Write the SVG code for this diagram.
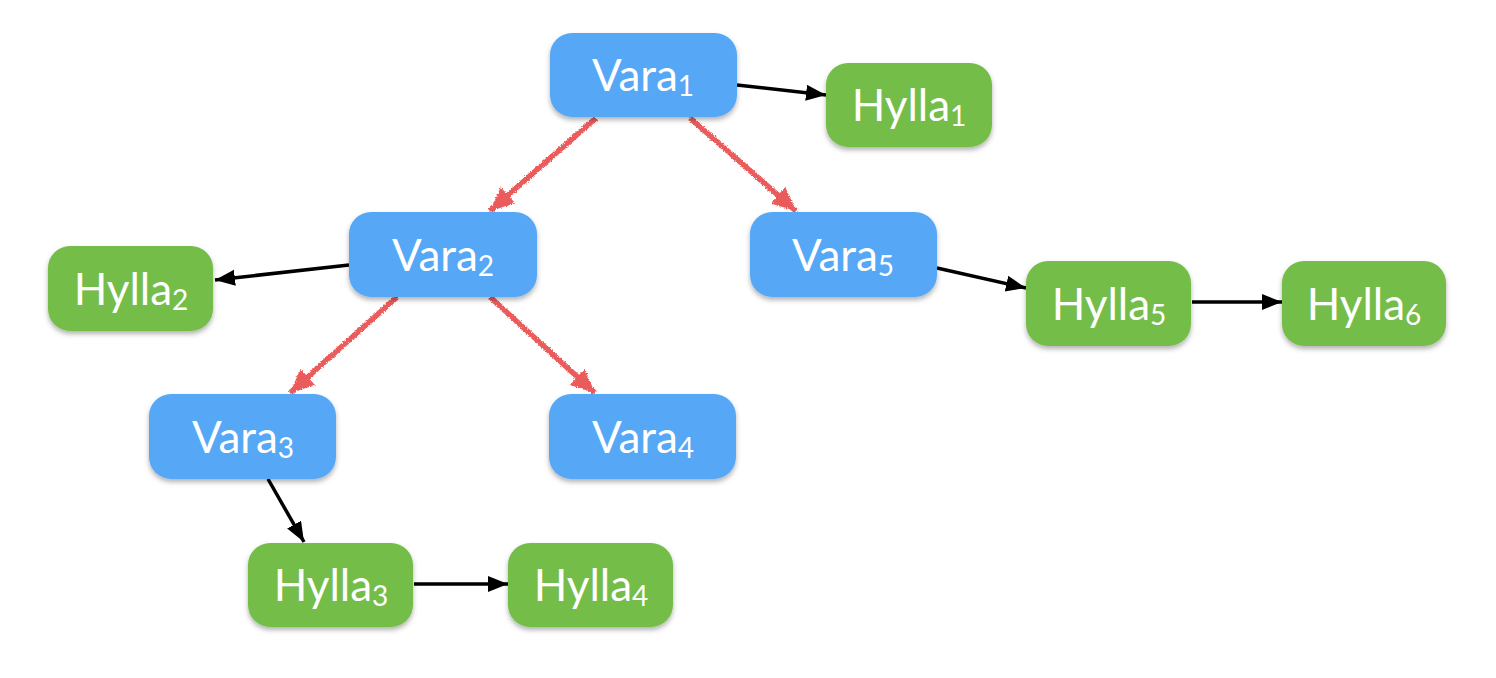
<svg xmlns="http://www.w3.org/2000/svg" width="1496" height="678" viewBox="0 0 1496 678">
<style>
.vara{fill:#57A8F6}
.hylla{fill:#74BD48}
.lbl{font-family:"Source Sans Pro","Lato","Open Sans",sans-serif;font-size:44px;fill:#fff;text-anchor:middle}
.sub{font-size:28px}
.blk{stroke:#000;stroke-width:3.5;fill:none}
.red{stroke:#EA5B5B;stroke-width:5.5;fill:none}
</style>
<defs>
<filter id="sh" x="-20%" y="-20%" width="140%" height="150%">
<feDropShadow dx="0" dy="3" stdDeviation="2.5" flood-color="#000" flood-opacity="0.3"/>
</filter>
<filter id="rough" x="-20%" y="-20%" width="140%" height="140%">
<feTurbulence type="fractalNoise" baseFrequency="0.8" numOctaves="2" seed="3"/>
<feDisplacementMap in="SourceGraphic" scale="3.5" xChannelSelector="R" yChannelSelector="G"/>
</filter>
<marker id="ab" markerUnits="userSpaceOnUse" markerWidth="22" markerHeight="18" refX="20" refY="8" orient="auto">
<path d="M0,0 L20,8 L0,16 Z" fill="#000"/>
</marker>
<marker id="ar" markerUnits="userSpaceOnUse" markerWidth="26" markerHeight="24" refX="24" refY="11" orient="auto">
<path d="M0,0 L24,11 L0,22 Z" fill="#EA5B5B"/>
</marker>
</defs>

<g id="connectors">
<g filter="url(#rough)">
<line class="red" x1="596" y1="118" x2="490" y2="211" marker-end="url(#ar)"/>
<line class="red" x1="690" y1="118" x2="796" y2="211" marker-end="url(#ar)"/>
<line class="red" x1="397" y1="297" x2="290" y2="393" marker-end="url(#ar)"/>
<line class="red" x1="490" y1="297" x2="595" y2="393" marker-end="url(#ar)"/>
</g>
<line class="blk" x1="737" y1="85" x2="826" y2="95" marker-end="url(#ab)"/>
<line class="blk" x1="349" y1="265" x2="215" y2="280" marker-end="url(#ab)"/>
<line class="blk" x1="937" y1="268" x2="1026" y2="288" marker-end="url(#ab)"/>
<line class="blk" x1="1192" y1="302" x2="1282" y2="302" marker-end="url(#ab)"/>
<line class="blk" x1="268" y1="479" x2="304" y2="542" marker-end="url(#ab)"/>
<line class="blk" x1="414" y1="584" x2="508" y2="584" marker-end="url(#ab)"/>
</g>

<g id="vara1"><rect class="vara" filter="url(#sh)" x="550" y="33" width="187" height="84" rx="22"/><text class="lbl" x="643" y="91">Vara<tspan class="sub" dy="5">1</tspan></text></g>
<g id="hylla1"><rect class="hylla" filter="url(#sh)" x="826" y="63" width="166" height="84" rx="22"/><text class="lbl" x="909" y="121">Hylla<tspan class="sub" dy="5">1</tspan></text></g>
<g id="vara2"><rect class="vara" filter="url(#sh)" x="349" y="212" width="188" height="85" rx="22"/><text class="lbl" x="443" y="271">Vara<tspan class="sub" dy="5">2</tspan></text></g>
<g id="hylla2"><rect class="hylla" filter="url(#sh)" x="48" y="246" width="165" height="85" rx="22"/><text class="lbl" x="131" y="305">Hylla<tspan class="sub" dy="5">2</tspan></text></g>
<g id="vara5"><rect class="vara" filter="url(#sh)" x="750" y="212" width="187" height="85" rx="22"/><text class="lbl" x="843" y="271">Vara<tspan class="sub" dy="5">5</tspan></text></g>
<g id="hylla5"><rect class="hylla" filter="url(#sh)" x="1026" y="261" width="165" height="85" rx="22"/><text class="lbl" x="1109" y="320">Hylla<tspan class="sub" dy="5">5</tspan></text></g>
<g id="hylla6"><rect class="hylla" filter="url(#sh)" x="1282" y="261" width="164" height="85" rx="22"/><text class="lbl" x="1364" y="320">Hylla<tspan class="sub" dy="5">6</tspan></text></g>
<g id="vara3"><rect class="vara" filter="url(#sh)" x="149" y="394" width="187" height="85" rx="22"/><text class="lbl" x="243" y="453">Vara<tspan class="sub" dy="5">3</tspan></text></g>
<g id="vara4"><rect class="vara" filter="url(#sh)" x="549" y="394" width="187" height="85" rx="22"/><text class="lbl" x="643" y="453">Vara<tspan class="sub" dy="5">4</tspan></text></g>
<g id="hylla3"><rect class="hylla" filter="url(#sh)" x="248" y="543" width="165" height="84" rx="22"/><text class="lbl" x="331" y="601">Hylla<tspan class="sub" dy="5">3</tspan></text></g>
<g id="hylla4"><rect class="hylla" filter="url(#sh)" x="508" y="543" width="165" height="84" rx="22"/><text class="lbl" x="591" y="601">Hylla<tspan class="sub" dy="5">4</tspan></text></g>
</svg>
